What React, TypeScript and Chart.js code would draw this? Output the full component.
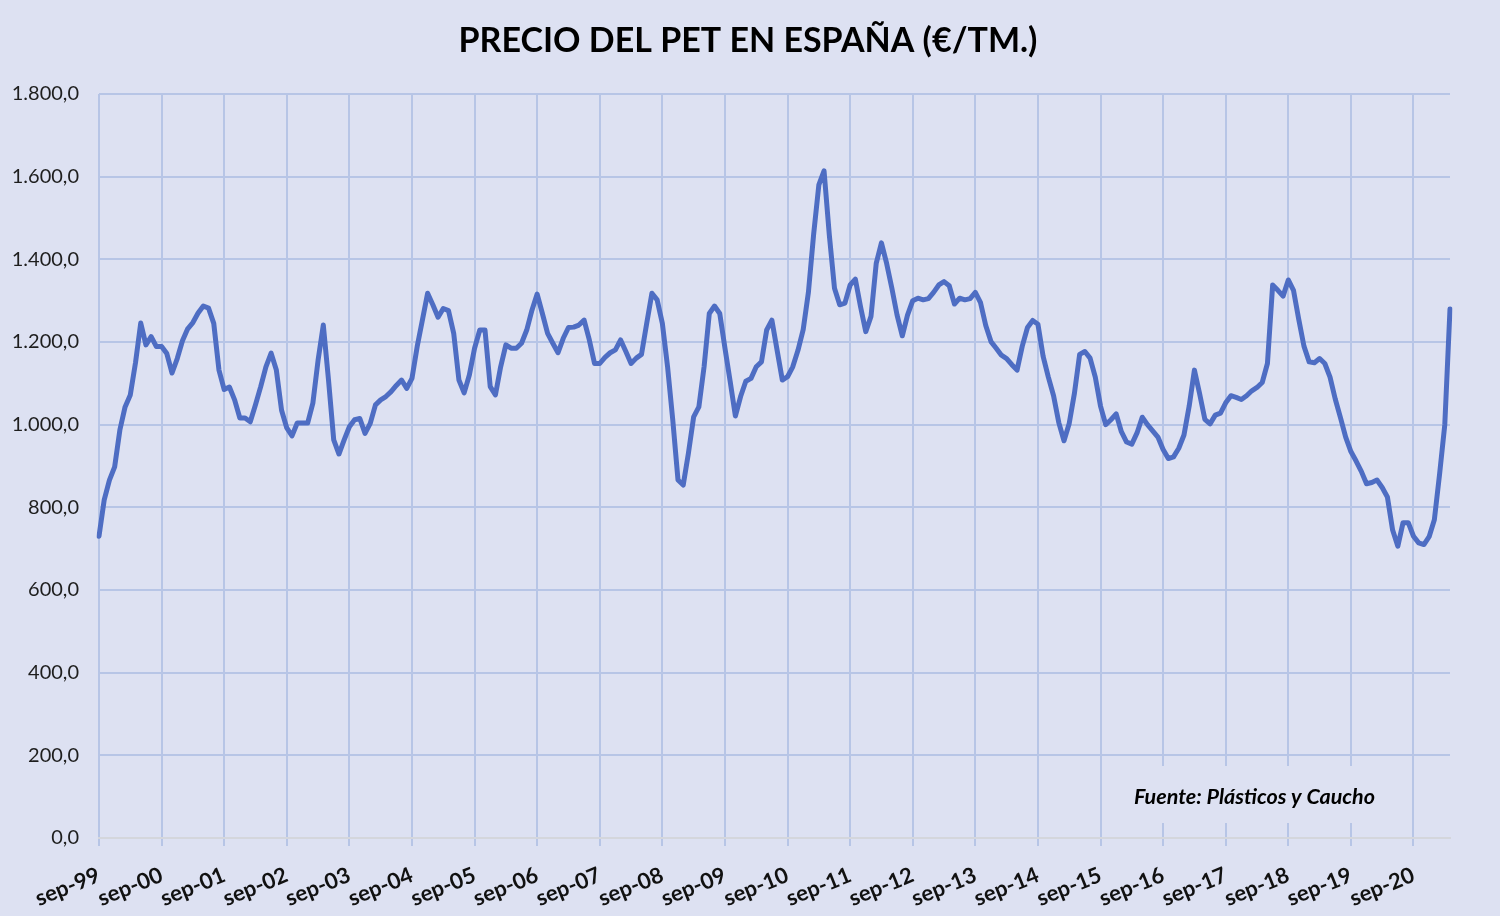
import React, { useEffect, useRef } from 'react';
import { Chart, registerables } from 'chart.js';

Chart.register(...registerables);

const TITLE = 'PRECIO DEL PET EN ESPAÑA (€/TM.)';
const SOURCE = 'Fuente: Plásticos y Caucho';

const MONTH_NAMES = ['ene', 'feb', 'mar', 'abr', 'may', 'jun', 'jul', 'ago', 'sep', 'oct', 'nov', 'dic'];
const START_YEAR = 1999;
const START_MONTH = 8; // sep

// Monthly PET price (€/TM), sep-99 .. abr-21
const prices = [
  730, 818, 866, 898, 987, 1043, 1072, 1150, 1246, 1193, 1213, 1189,
  1189, 1172, 1125, 1160, 1203, 1232, 1247, 1270, 1287, 1282, 1245, 1132,
  1085, 1091, 1060, 1016, 1016, 1007, 1048, 1092, 1140, 1173, 1132, 1035,
  992, 973, 1004, 1004, 1004, 1052, 1156, 1241, 1108, 963, 929, 963,
  995, 1012, 1015, 979, 1003, 1048, 1060, 1068, 1080, 1095, 1108, 1088,
  1112, 1189, 1253, 1318, 1290, 1260, 1281, 1276, 1221, 1108, 1077, 1120,
  1185, 1229, 1229, 1092, 1072, 1140, 1193, 1185, 1185, 1197, 1229, 1277,
  1316, 1269, 1221, 1197, 1174, 1209, 1235, 1236, 1241, 1253, 1205, 1148,
  1148, 1163, 1174, 1181, 1205, 1177, 1148, 1161, 1170, 1245, 1318, 1302,
  1245, 1140, 1011, 866, 854, 931, 1019, 1043, 1140, 1269, 1287, 1269,
  1185, 1105, 1021, 1068, 1105, 1112, 1140, 1152, 1229, 1253, 1180, 1108,
  1116, 1140, 1180, 1230, 1320, 1460, 1580, 1614, 1460, 1330, 1290, 1294,
  1338, 1352, 1285, 1225, 1262, 1390, 1440, 1390, 1330, 1265, 1215, 1265,
  1300, 1306, 1302, 1305, 1320, 1338, 1346, 1336, 1292, 1306, 1302, 1305,
  1320, 1295, 1240, 1201, 1185, 1168, 1160, 1145, 1132, 1190, 1235, 1252,
  1243, 1165, 1115, 1070, 1005, 961, 1003, 1076, 1170, 1177, 1161, 1115,
  1045, 1000, 1012, 1026, 983, 958, 953, 980, 1018, 1000, 985, 970,
  940, 918, 922, 943, 975, 1045, 1132, 1075, 1013, 1002, 1023, 1028,
  1053, 1070, 1066, 1061, 1070, 1082, 1090, 1102, 1148, 1338, 1325, 1311,
  1350, 1325, 1255, 1190, 1152, 1150, 1160, 1148, 1115, 1062, 1017, 970,
  935, 912, 887, 857, 860, 866, 848, 825, 745, 706, 763, 763,
  730, 714, 710, 729, 770, 880, 1000, 1280,
];

const categories = prices.map((_, i) => {
  const m = START_MONTH + i;
  const year = START_YEAR + Math.floor(m / 12);
  return `${MONTH_NAMES[m % 12]}-${String(year % 100).padStart(2, '0')}`;
});

const Y_MIN = 0;
const Y_MAX = 1800;
const Y_STEP = 200;

const BG = '#dde1f2';
const GRID = '#b7c5e6';
const LINE = '#4e6dc3';
const AXIS_LINE = '#d4d6dc';
const FONT = 'Lato, "Open Sans", sans-serif';

const fmtEs = (v: number) =>
  String(Math.round(v)).replace(/\B(?=(\d{3})+(?!\d))/g, '.') + ',0';

export default function App() {
  const ref = useRef<HTMLCanvasElement | null>(null);

  useEffect(() => {
    if (!ref.current) return;
    const bgPlugin = {
      id: 'bgPlugin',
      beforeDraw(chart: any) {
        const { ctx, width, height } = chart;
        ctx.save();
        ctx.fillStyle = BG;
        ctx.fillRect(0, 0, width, height);
        ctx.restore();
      },
      afterDraw(chart: any) {
        const { ctx, width } = chart;
        ctx.save();
        // title
        ctx.fillStyle = '#000';
        ctx.font = `bold 34px ${FONT}`;
        ctx.textAlign = 'center';
        ctx.textBaseline = 'middle';
        ctx.fillText(TITLE, width / 2 - 2, 41);
        // source box
        ctx.fillStyle = BG;
        ctx.fillRect(1112, 766, 288, 57);
        ctx.fillStyle = '#000';
        ctx.font = `italic bold 21.5px ${FONT}`;
        ctx.textAlign = 'left';
        ctx.fillText(SOURCE, 1134, 797);
        ctx.restore();
      },
    };

    const chart = new Chart(ref.current, {
      type: 'line',
      data: {
        labels: categories,
        datasets: [
          {
            data: prices,
            borderColor: LINE,
            borderWidth: 5,
            pointRadius: 0,
            tension: 0,
            borderJoinStyle: 'round',
            borderCapStyle: 'round',
            fill: false,
          },
        ],
      },
      options: {
        animation: false,
        responsive: false,
        layout: { padding: { top: 94, right: 50, bottom: 0, left: 0 } },
        plugins: {
          legend: { display: false },
          title: { display: false },
          tooltip: { enabled: false },
        },
        scales: {
          x: {
            type: 'category',
            offset: false,
            afterFit: (s: any) => {
              s.height = 78;
            },
            grid: {
              color: (ctx: any) => (ctx.index % 12 === 0 ? GRID : 'rgba(0,0,0,0)'),
              lineWidth: 2,
              drawTicks: true,
              tickLength: 8,
            },
            border: { display: true, color: AXIS_LINE, width: 2 },
            ticks: {
              autoSkip: false,
              minRotation: 22,
              maxRotation: 22,
              padding: 16,
              color: '#111',
              font: { family: FONT, size: 22, weight: 'bold' },
              callback: (_v: any, i: number) => (categories[i].startsWith('sep') ? categories[i] : ''),
            },
          },
          y: {
            min: Y_MIN,
            max: Y_MAX,
            afterFit: (s: any) => {
              s.width = 99;
            },
            grid: { color: GRID, lineWidth: 2, drawTicks: false },
            border: { display: false },
            ticks: {
              stepSize: Y_STEP,
              padding: 20,
              color: '#1e1e1e',
              font: { family: FONT, size: 20 },
              callback: (v: any) => fmtEs(Number(v)),
            },
          },
        },
      },
      plugins: [bgPlugin],
    } as any);
    return () => chart.destroy();
  }, []);

  return (
    <div style={{ position: 'absolute', left: 0, top: 0, width: 1500, height: 916, background: BG }}>
      <canvas ref={ref} width={1500} height={916} style={{ display: 'block' }} />
    </div>
  );
}
